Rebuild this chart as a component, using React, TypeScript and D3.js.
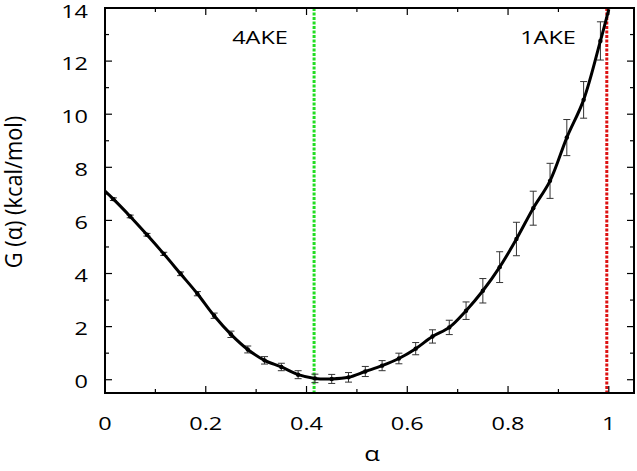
import React from "react";
import * as d3 from "d3";

// Bin centres of the free-energy profile (alpha)
const alphaBins = d3.range(30).map((k) => (k + 0.5) / 30);
// G(alpha) values at bin centres (kcal/mol)
const gValues = [
  6.8, 6.15, 5.46, 4.74, 3.99, 3.24, 2.41, 1.71, 1.14, 0.73,
  0.48, 0.19, 0.05, 0.03, 0.09, 0.31, 0.53, 0.8, 1.17, 1.63,
  1.97, 2.6, 3.35, 4.24, 5.3, 6.46, 7.49, 9.12, 10.54, 12.76,
];
// error bar half-widths
const gErrors = [
  0.05, 0.05, 0.05, 0.06, 0.07, 0.08, 0.1, 0.12, 0.13, 0.14,
  0.14, 0.15, 0.16, 0.17, 0.18, 0.19, 0.19, 0.2, 0.23, 0.25,
  0.27, 0.33, 0.46, 0.58, 0.63, 0.64, 0.66, 0.68, 0.69, 0.72,
];
// curve end values
const curveStart = { a: 0, g: 7.1 };
const curveEnd = { a: 1.0, g: 13.95 };

const xMajorTicks = [0, 0.2, 0.4, 0.6, 0.8, 1];
const xMinorTicks = [0.1, 0.3, 0.5, 0.7, 0.9];
const yMajorTicks = [0, 2, 4, 6, 8, 10, 12, 14];
const yMinorTicks = [1, 3, 5, 7, 9, 11, 13];

const refLines = [
  { a: 0.415, label: "4AKE", color: "#22dd22" },
  { a: 0.996, label: "1AKE", color: "#dd1111" },
];

const W = 637;
const H = 471;
const L = 105, R = 634, T = 8, B = 393;
const FONT = "'Open Sans', sans-serif";
const SX = 1.27;

export default function App() {
  const x = d3.scaleLinear().domain([0, 1.05]).range([L, R]);
  const y = d3.scaleLinear().domain([-0.5, 14]).range([B, T]);

  const pts = alphaBins.map((a, i) => ({ a, g: gValues[i], e: gErrors[i] }));
  const curvePts = [curveStart, ...pts, curveEnd];
  const line = d3
    .line<{ a: number; g: number }>()
    .x((d) => x(d.a))
    .y((d) => y(d.g))
    .curve(d3.curveCatmullRom.alpha(0.5));

  const major = 7;
  const minor = 4;

  return (
    <svg
      width={W}
      height={H}
      style={{ position: "absolute", left: 0, top: 0, background: "#fff" }}
      fontFamily={FONT}
    >
      {/* reference lines */}
      {refLines.map((r) => (
        <line
          key={r.label}
          x1={x(r.a)}
          x2={x(r.a)}
          y1={T}
          y2={B}
          stroke={r.color}
          strokeWidth={3}
          strokeDasharray="3,1.5"
        />
      ))}
      {/* error bars */}
      {pts.map((p, i) => {
        const cx = x(p.a);
        const y1 = y(p.g - p.e);
        const y2 = y(p.g + p.e);
        return (
          <g key={i} stroke="#333" strokeWidth={1}>
            <line x1={cx} x2={cx} y1={y1} y2={y2} />
            <line x1={cx - 3.5} x2={cx + 3.5} y1={y1} y2={y1} />
            <line x1={cx - 3.5} x2={cx + 3.5} y1={y2} y2={y2} />
          </g>
        );
      })}
      {/* curve */}
      <path d={line(curvePts) || ""} fill="none" stroke="#000" strokeWidth={3} />
      {pts.map((p, i) => (
        <circle key={i} cx={x(p.a)} cy={y(p.g)} r={2.2} fill="#000" />
      ))}

      {/* ticks */}
      <g stroke="#000" strokeWidth={1.2}>
        {xMajorTicks.map((t) => (
          <g key={"xm" + t}>
            <line x1={x(t)} x2={x(t)} y1={B} y2={B - major} />
            <line x1={x(t)} x2={x(t)} y1={T} y2={T + major} />
          </g>
        ))}
        {xMinorTicks.map((t) => (
          <g key={"xn" + t}>
            <line x1={x(t)} x2={x(t)} y1={B} y2={B - minor} />
            <line x1={x(t)} x2={x(t)} y1={T} y2={T + minor} />
          </g>
        ))}
        {yMajorTicks.map((t) => (
          <g key={"ym" + t}>
            <line x1={L} x2={L + major} y1={y(t)} y2={y(t)} />
            <line x1={R} x2={R - major} y1={y(t)} y2={y(t)} />
          </g>
        ))}
        {yMinorTicks.map((t) => (
          <g key={"yn" + t}>
            <line x1={L} x2={L + minor} y1={y(t)} y2={y(t)} />
            <line x1={R} x2={R - minor} y1={y(t)} y2={y(t)} />
          </g>
        ))}
      </g>
      {/* frame */}
      <rect x={L} y={T} width={R - L} height={B - T} fill="none" stroke="#000" strokeWidth={2} />

      {/* tick labels */}
      {xMajorTicks.map((t) => (
        <text
          key={"xl" + t}
          transform={`translate(${x(t)},430) scale(${SX},1)`}
          textAnchor="middle"
          fontSize={18.5}
          fill="#000"
        >
          {d3.format("")(t)}
        </text>
      ))}
      {yMajorTicks.map((t) => (
        <text
          key={"yl" + t}
          transform={`translate(88,${Math.max(y(t) + 1.3, 11)}) scale(${SX},1)`}
          textAnchor="end"
          dominantBaseline="central"
          fontSize={18.5}
          fill="#000"
        >
          {t}
        </text>
      ))}

      {/* reference labels */}
      <text transform={`translate(260,44) scale(${SX},1)`} textAnchor="middle" fontSize={18.5}>
        {refLines[0].label}
      </text>
      <text transform={`translate(548,44) scale(${SX},1)`} textAnchor="middle" fontSize={18.5}>
        {refLines[1].label}
      </text>

      {/* axis titles */}
      <text transform={`translate(372,461) scale(${SX},1)`} textAnchor="middle" fontSize={20}>
        α
      </text>
      <text
        transform={`translate(22,192) rotate(-90) scale(1.18,${SX})`}
        textAnchor="middle"
        fontSize={18.5}
      >
        G (α) (kcal/mol)
      </text>
    </svg>
  );
}
